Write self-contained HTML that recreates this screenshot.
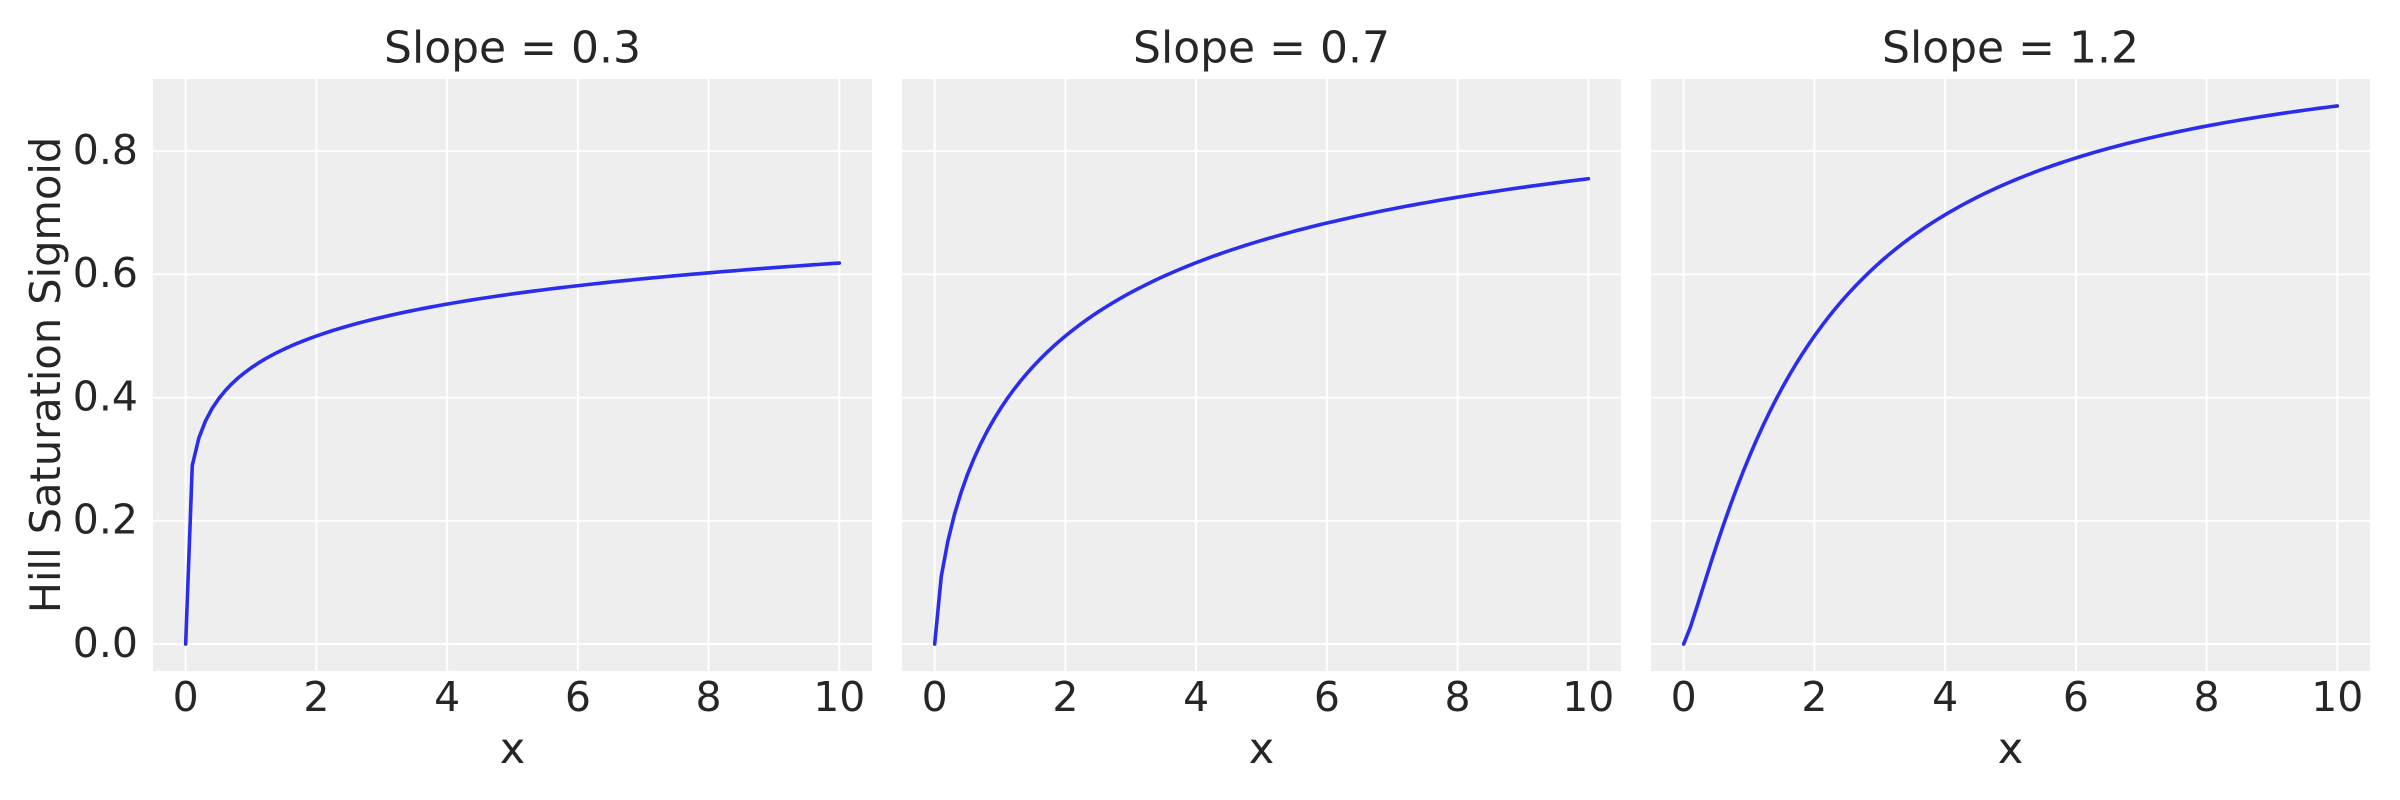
<!DOCTYPE html>
<html>
<head>
<meta charset="utf-8">
<style>
  html, body { margin: 0; padding: 0; background: #ffffff; }
  svg { display: block; }
  text { font-family: "DejaVu Sans", "Liberation Sans", sans-serif; fill: #262626; }
</style>
</head>
<body>
<svg id="chart" xmlns="http://www.w3.org/2000/svg" width="2400" height="800" viewBox="0 0 2400 800">
  <rect x="0" y="0" width="2400" height="800" fill="#ffffff"/>
  <g id="panels"></g>
  <!-- titles -->
  <text x="512.5" y="62.7" font-size="44" text-anchor="middle">Slope = 0.3</text>
  <text x="1261.5" y="62.7" font-size="44" text-anchor="middle">Slope = 0.7</text>
  <text x="2010.5" y="62.7" font-size="44" text-anchor="middle">Slope = 1.2</text>
  <!-- x labels -->
  <text x="512.5" y="763" font-size="43" text-anchor="middle">x</text>
  <text x="1261.5" y="763" font-size="43" text-anchor="middle">x</text>
  <text x="2010.5" y="763" font-size="43" text-anchor="middle">x</text>
  <!-- y label -->
  <text x="0" y="0" font-size="41.5" text-anchor="middle" transform="translate(60,375) rotate(-90)">Hill Saturation Sigmoid</text>
  <!-- y tick labels -->
  <text x="138" y="656.8" font-size="41" text-anchor="end">0.0</text>
  <text x="138" y="533.6" font-size="41" text-anchor="end">0.2</text>
  <text x="138" y="410.3" font-size="41" text-anchor="end">0.4</text>
  <text x="138" y="287.1" font-size="41" text-anchor="end">0.6</text>
  <text x="138" y="163.8" font-size="41" text-anchor="end">0.8</text>
  <g id="xticks"></g>
</svg>
<script>
(function(){
  var NS = "http://www.w3.org/2000/svg";
  var panels = document.getElementById("panels");
  var xt = document.getElementById("xticks");
  var lefts = [153, 902, 1651];
  var slopes = [0.3, 0.7, 1.2];
  var W = 719, top = 79, H = 592;
  var sx = W / 11;
  var y0 = 644.1, sy = 616.2;
  function el(name, attrs, parent) {
    var e = document.createElementNS(NS, name);
    for (var k in attrs) e.setAttribute(k, attrs[k]);
    parent.appendChild(e);
    return e;
  }
  for (var p = 0; p < 3; p++) {
    var L = lefts[p];
    var g = el("g", {}, panels);
    el("rect", {x: L, y: top, width: W, height: H, fill: "#eeeeee"}, g);
    for (var xv = 0; xv <= 10; xv += 2) {
      var px = L + (xv + 0.5) * sx;
      el("line", {x1: px, y1: top, x2: px, y2: top + H, stroke: "#ffffff", "stroke-width": 2}, g);
      var t = el("text", {x: px, y: 711, "font-size": 41, "text-anchor": "middle"}, xt);
      t.textContent = String(xv);
    }
    for (var i = 0; i <= 4; i++) {
      var py = y0 - i * 0.2 * sy;
      el("line", {x1: L, y1: py, x2: L + W, y2: py, stroke: "#ffffff", "stroke-width": 2}, g);
    }
    var s = slopes[p];
    var K = Math.pow(2, s);
    var d = "";
    for (var j = 0; j < 100; j++) {
      var x = j * 10 / 99;
      var xs = Math.pow(x, s);
      var v = xs / (K + xs);
      var X = L + (x + 0.5) * sx;
      var Y = y0 - v * sy;
      d += (j === 0 ? "M" : "L") + X.toFixed(2) + "," + Y.toFixed(2);
    }
    el("path", {d: d, fill: "none", stroke: "#2a2eec", "stroke-width": 3.6, "stroke-linejoin": "round", "stroke-linecap": "round"}, g);
  }
})();
</script>
</body>
</html>
